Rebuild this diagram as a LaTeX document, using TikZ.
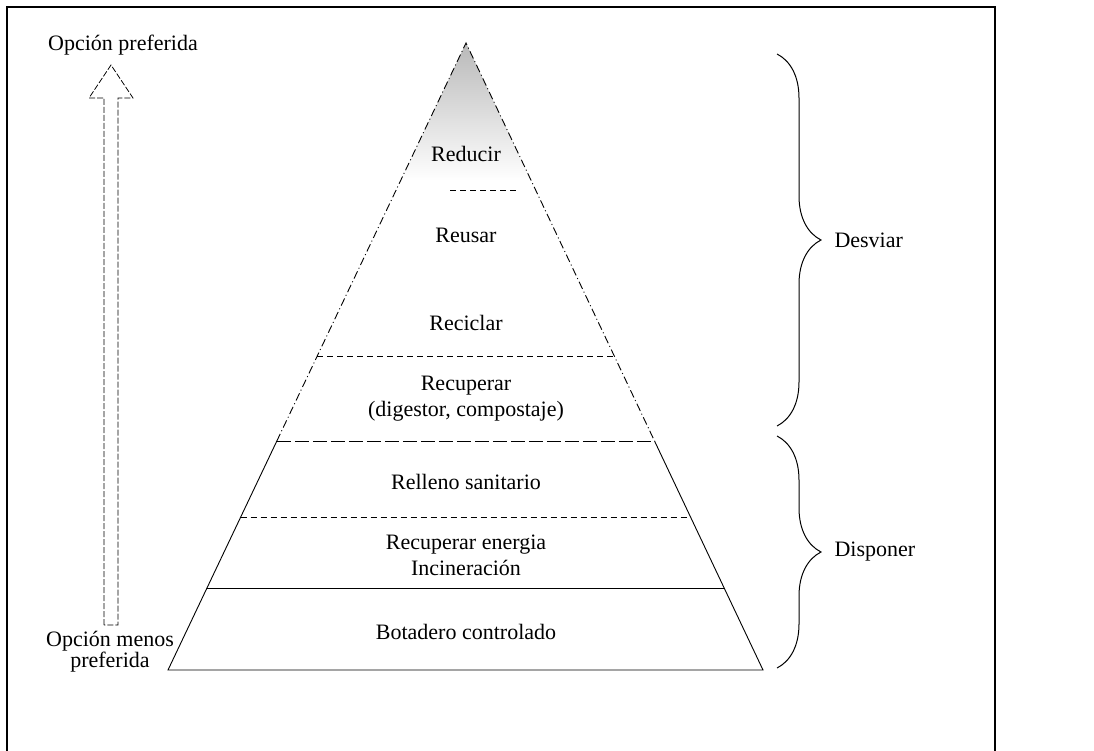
\documentclass[tikz,border=0pt]{standalone}
\usepackage{fontspec}
\setmainfont{Liberation Serif}
\usetikzlibrary{calc,positioning,decorations.pathreplacing}
\begin{document}
\begin{tikzpicture}[x=1pt,y=-1pt,
  label/.style={font=\fontsize{22}{26}\selectfont,align=center,inner sep=2pt},
  cut/.style={line width=0.7pt,dash pattern=on 6pt off 4pt},
  edge/.style={line width=0.9pt,dash pattern=on 8pt off 3pt on 1pt off 3pt},
  hollow/.style={line width=0.8pt,dash pattern=on 6pt off 2pt},
  group/.style={decorate,decoration={brace,amplitude=44pt},line width=1pt}]
\useasboundingbox (0,0) rectangle (1094,751);
\draw[line width=1.6pt] (7,751) -- (7,7) -- (995,7) -- (995,751);
% pyramid
\coordinate (apex) at (466,43);
\coordinate (bl) at (168,670);
\coordinate (br) at (763,670);
\foreach \n/\t in {a/0.234,b/0.499,c/0.635,d/0.756,e/0.869} {
  \coordinate (l\n) at ($(apex)!\t!(bl)$);
  \coordinate (r\n) at ($(apex)!\t!(br)$);
}
\shade[top color=gray!55,middle color=white,bottom color=white]
  (apex) -- ($(apex)!0.22!(bl)$) -- ($(apex)!0.22!(br)$) -- cycle;
\draw[edge] (lc) -- (apex) -- (rc);
\draw[line width=0.9pt] (lc) -- (bl) -- (br) -- (rc);
\draw[cut] (450,190) -- (517,190);
\draw[cut] (lb) -- (rb);
\draw[cut,dash pattern=on 14pt off 4pt] (lc) -- (rc);
\draw[cut] (ld) -- (rd);
\draw[line width=0.6pt] (le) -- (re);
\node[label] (reducir) at (466,154) {Reducir};
\node[label] (reusar) at (466,235) {Reusar};
\node[label] (reciclar) at (466,323) {Reciclar};
\node[label] (recuperar) at (466,399) {Recuperar\\(digestor, compostaje)};
\node[label] (relleno) at (466,482) {Relleno sanitario};
\node[label] (energia) at (466,555) {Recuperar energia\\Incineración};
\node[label] (botadero) at (466,632) {Botadero controlado};
% preference arrow
\draw[hollow] (104,625) -- (104,98) -- (89,98) -- (111,65) -- (133,98)
  -- (118,98) -- (118,625) -- cycle;
\node[label] (mas) at (123,45) {Opción preferida};
\node[label,font=\fontsize{22}{20}\selectfont] (menos) at (110,652) {Opción menos\\preferida};
% groups
\coordinate (d1) at (777,54);
\coordinate (d2) at (777,426);
\coordinate (p1) at (777,436);
\coordinate (p2) at (777,668);
\draw[group] (d1) -- node[label,right=55pt] (desviar) {Desviar} (d2);
\draw[group] (p1) -- node[label,right=55pt] (disponer) {Disponer} (p2);
\end{tikzpicture}
\end{document}
